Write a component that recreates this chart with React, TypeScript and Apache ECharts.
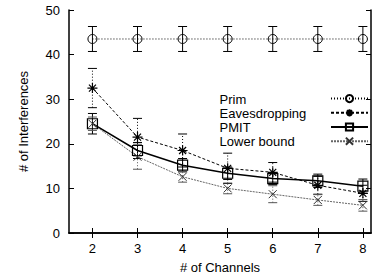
import React, { useEffect, useRef } from "react";
import * as echarts from "echarts";

const channels = [2, 3, 4, 5, 6, 7, 8];
const seriesNames = ["Prim", "Eavesdropping", "PMIT", "Lower bound"];
const primValues = [43.5, 43.5, 43.5, 43.5, 43.5, 43.5, 43.5];
const primErr = [2.8, 2.8, 2.8, 2.8, 2.8, 2.8, 2.8];
const eavesValues = [32.5, 21.5, 18.5, 14.5, 13.6, 10.7, 8.9];
const eavesErr = [4.4, 4.2, 3.7, 3.4, 2.2, 2.0, 1.8];
const pmitValues = [24.5, 18.5, 15.2, 13.4, 12.2, 11.7, 10.5];
const pmitErr = [2.3, 1.8, 1.5, 1.4, 1.3, 1.5, 1.6];
const lowerValues = [24.5, 17.1, 12.6, 10.0, 8.7, 7.4, 6.2];
const lowerErr = [1.5, 2.8, 1.2, 1.2, 1.9, 1.2, 1.3];
const yTicks = [0, 10, 20, 30, 40, 50];

const FONT = "Liberation Sans, Arial, sans-serif";

const ASTERISK = "path://M0,-10L0,10M-10,0L10,0M-7,-7L7,7M-7,7L7,-7";
const CROSS = "path://M-10,-10L10,10M-10,10L10,-10";

function errSeries(values: number[], errs: number[], color: string, dash: any) {
  return {
    type: "custom",
    silent: true,
    z: 1,
    renderItem: (params: any, api: any) => {
      const x = api.value(0);
      const lo = api.coord([x, api.value(1)]);
      const hi = api.coord([x, api.value(2)]);
      const cw = 4.5;
      const style = { stroke: color, lineWidth: 1, lineDash: dash, fill: "none" };
      return {
        type: "group",
        children: [
          { type: "line", shape: { x1: lo[0], y1: lo[1], x2: hi[0], y2: hi[1] }, style },
          { type: "line", shape: { x1: lo[0] - cw, y1: lo[1], x2: lo[0] + cw, y2: lo[1] }, style: { stroke: color, lineWidth: 1 } },
          { type: "line", shape: { x1: hi[0] - cw, y1: hi[1], x2: hi[0] + cw, y2: hi[1] }, style: { stroke: color, lineWidth: 1 } },
        ],
      };
    },
    data: channels.map((c, i) => [c, values[i] - errs[i], values[i] + errs[i]]),
  };
}

export default function App() {
  const ref = useRef<HTMLDivElement>(null);
  useEffect(() => {
    const chart = echarts.init(ref.current!, undefined, { renderer: "svg" });
    const axisLine = { show: true, lineStyle: { color: "#000", width: 1.5 } };
    const tick = { show: true, inside: true, length: 5, lineStyle: { color: "#000", width: 1 } };
    const txt = { color: "#000", fontSize: 13, fontFamily: FONT };
    chart.setOption({
      animation: false,
      textStyle: { fontFamily: FONT },
      grid: { left: 69, right: 5, top: 10, bottom: 47 },
      xAxis: [
        {
          type: "value",
          min: 1.48,
          max: 8.18,
          axisLine,
          axisTick: { ...tick, customValues: channels },
          axisLabel: { ...txt, customValues: channels, margin: 9 },
          splitLine: { show: false },
          name: "# of Channels",
          nameLocation: "middle",
          nameGap: 28,
          nameTextStyle: txt,
        },
        {
          type: "value",
          position: "top",
          min: 1.48,
          max: 8.18,
          axisLine,
          axisTick: { ...tick, customValues: channels },
          axisLabel: { show: false },
          splitLine: { show: false },
        },
      ],
      yAxis: [
        {
          type: "value",
          min: 0,
          max: 50,
          interval: 10,
          axisLine,
          axisTick: tick,
          axisLabel: { ...txt, margin: 9, customValues: yTicks },
          splitLine: { show: false },
          name: "# of Interferences",
          nameLocation: "middle",
          nameGap: 39,
          nameTextStyle: txt,
        },
        {
          type: "value",
          position: "right",
          min: 0,
          max: 50,
          interval: 10,
          axisLine,
          axisTick: tick,
          axisLabel: { show: false },
          splitLine: { show: false },
        },
      ],
      legend: [
        {
          orient: "vertical",
          left: 208,
          top: 92,
          itemWidth: 0,
          itemHeight: 14,
          itemGap: 0,
          padding: 0,
          itemStyle: { opacity: 0 },
          lineStyle: { opacity: 0 },
          textStyle: { ...txt, lineHeight: 14 },
          data: seriesNames,
        },
        {
          orient: "vertical",
          left: 330,
          top: 94,
          itemWidth: 37,
          itemHeight: 9,
          itemGap: 5,
          padding: 0,
          formatter: () => "",
          textStyle: { color: "#000", fontSize: 6, lineHeight: 6 },
          data: seriesNames,
        },
      ],
      series: [
        errSeries(primValues, primErr, "#000", null),
        errSeries(eavesValues, eavesErr, "#000", [1, 2]),
        errSeries(pmitValues, pmitErr, "#000", null),
        errSeries(lowerValues, lowerErr, "#555", [1, 2]),
        {
          name: seriesNames[0],
          type: "line",
          data: channels.map((c, i) => [c, primValues[i]]),
          symbol: "circle",
          symbolSize: 9,
          itemStyle: { color: "transparent", borderColor: "#000", borderWidth: 1 },
          lineStyle: { color: "#000", width: 1, type: [1, 2] },
          z: 3,
        },
        {
          name: seriesNames[1],
          type: "line",
          data: channels.map((c, i) => [c, eavesValues[i]]),
          symbol: ASTERISK,
          symbolSize: 10,
          itemStyle: { color: "transparent", borderColor: "#000", borderWidth: 1.2 },
          lineStyle: { color: "#000", width: 1, type: [3, 2] },
          z: 3,
        },
        {
          name: seriesNames[2],
          type: "line",
          data: channels.map((c, i) => [c, pmitValues[i]]),
          symbol: "rect",
          symbolSize: 10,
          itemStyle: { color: "transparent", borderColor: "#000", borderWidth: 1.2 },
          lineStyle: { color: "#000", width: 1.5 },
          z: 3,
        },
        {
          name: seriesNames[3],
          type: "line",
          data: channels.map((c, i) => [c, lowerValues[i]]),
          symbol: CROSS,
          symbolSize: 8,
          itemStyle: { color: "transparent", borderColor: "#333", borderWidth: 1 },
          lineStyle: { color: "#666", width: 1, type: [2, 1] },
          z: 3,
        },
      ],
    });
    return () => chart.dispose();
  }, []);
  return <div ref={ref} style={{ width: 376, height: 280, position: "absolute", left: 0, top: 0, background: "#fff" }} />;
}
